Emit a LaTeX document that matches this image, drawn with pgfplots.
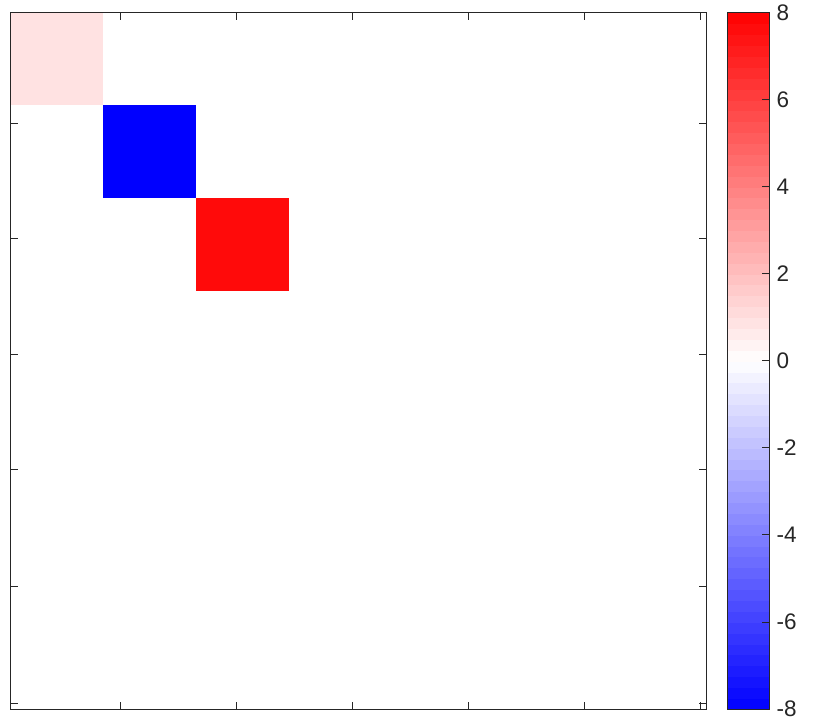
\documentclass[border=0pt]{standalone}
\usepackage{pgfplots}
\pgfplotsset{compat=1.18}
\usepackage{fontspec}
\setmainfont{Liberation Sans}
\definecolor{axgray}{RGB}{38,38,38}
\pgfplotstableread{
x y c
0.5 0.5 0.9
1.5 0.5 0
2.5 0.5 0
3.5 0.5 0
4.5 0.5 0
5.5 0.5 0
6.5 0.5 0
7.5 0.5 0
0.5 1.5 0
1.5 1.5 -8
2.5 1.5 0
3.5 1.5 0
4.5 1.5 0
5.5 1.5 0
6.5 1.5 0
7.5 1.5 0
0.5 2.5 0
1.5 2.5 0
2.5 2.5 7.7
3.5 2.5 0
4.5 2.5 0
5.5 2.5 0
6.5 2.5 0
7.5 2.5 0
0.5 3.5 0
1.5 3.5 0
2.5 3.5 0
3.5 3.5 0
4.5 3.5 0
5.5 3.5 0
6.5 3.5 0
7.5 3.5 0
0.5 4.5 0
1.5 4.5 0
2.5 4.5 0
3.5 4.5 0
4.5 4.5 0
5.5 4.5 0
6.5 4.5 0
7.5 4.5 0
0.5 5.5 0
1.5 5.5 0
2.5 5.5 0
3.5 5.5 0
4.5 5.5 0
5.5 5.5 0
6.5 5.5 0
7.5 5.5 0
0.5 6.5 0
1.5 6.5 0
2.5 6.5 0
3.5 6.5 0
4.5 6.5 0
5.5 6.5 0
6.5 6.5 0
7.5 6.5 0
0.5 7.5 0
1.5 7.5 0
2.5 7.5 0
3.5 7.5 0
4.5 7.5 0
5.5 7.5 0
6.5 7.5 0
7.5 7.5 0
}\datatable
\begin{document}
\begin{tikzpicture}[x=1pt,y=1pt]
\path[use as bounding box] (0,0) rectangle (830,720);
\begin{axis}[
  at={(10.7pt,11pt)}, anchor=south west,
  axis on top,
  scale only axis, width=695.3pt, height=696.3pt,
  xmin=0, xmax=7.485, ymin=0, ymax=7.495,
  y dir=reverse,
  axis line style={axgray, line width=0.9pt},
  xtick={1.18,2.43,3.68,4.93,6.18,7.43},
  ytick={1.19,2.435,3.675,4.92,6.18,7.43},
  xticklabels={}, yticklabels={},
  tick align=inside, major tick length=7.5pt,
  tick style={axgray, line width=0.9pt},
  colormap={bwr}{rgb255(0)=(0,0,255); rgb255(1)=(255,255,255); rgb255(2)=(255,0,0)},
  point meta min=-8, point meta max=8,
  colorbar sampled,
  colorbar style={
    at={(parent axis.north east)}, anchor=north west, xshift=12.7pt,
    scale only axis, width=42.3pt, height=696.3pt,
    axis on top,
    samples=65,
    y dir=normal,
    ymin=-8, ymax=8,
    ytick={-8,-6,-4,-2,0,2,4,6,8},
    yticklabels={-8,-6,-4,-2,0,2,4,6,8},
    yticklabel style={font=\fontsize{22.5}{26}\selectfont, text=axgray, xshift=3.5pt},
    ytick pos=right, yticklabel pos=right,
    tick align=inside, major tick length=8pt,
    tick style={axgray, line width=0.9pt},
    axis line style={axgray, line width=0.9pt},
  },
]
\addplot[matrix plot*, mesh/cols=8, point meta=explicit] table[x=x, y=y, meta=c] {\datatable};
\end{axis}
\end{tikzpicture}
\end{document}
